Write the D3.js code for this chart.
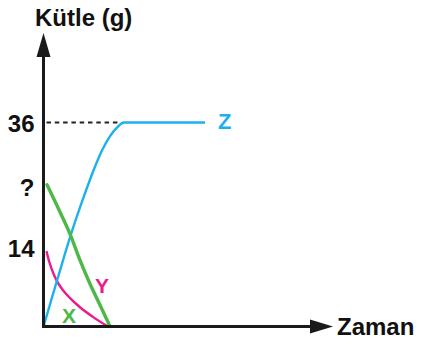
<!DOCTYPE html>
<html>
<head>
<meta charset="utf-8">
<script src="https://cdn.jsdelivr.net/npm/d3@7"></script>
<style>
  html, body { margin: 0; padding: 0; background: #fff; }
  svg { display: block; }
  text { font-family: "Liberation Sans", Arial, sans-serif; font-weight: bold; }
</style>
</head>
<body>
<svg id="chart" width="422" height="344"></svg>
<script>
// ---- data ----
const yTickValues = [36, 25, 14];
const yTickLabels = ["36", "?", "14"];
const yAxisTitle = "Kütle (g)";
const xAxisTitle = "Zaman";

const zTime = [0, 0.875, 1.72, 2.53, 3.16, 3.66, 4.16, 4.59, 5.03, 10.1];
const zMass = [0, 8.4, 16.3, 23.0, 27.8, 31.1, 33.6, 35.1, 36, 36];

const xTime = [0.22, 1.03, 1.66, 2.28, 2.91, 3.53, 4.16];
const xMass = [25.0, 20.2, 16.3, 11.7, 7.5, 3.8, 0];

const yTime = [0.19, 0.34, 0.53, 0.84, 1.22, 1.66, 2.28, 3.09, 4.03];
const yMass = [13.3, 11.6, 10.0, 8.0, 6.4, 5.0, 3.4, 1.7, 0];

const seriesNames = ["Z", "X", "Y"];

// ---- layout ----
const svg = d3.select("#chart");
const x = d3.scaleLinear().domain([0, 18]).range([43.5, 331.5]);
const y = d3.scaleLinear().domain([0, 36]).range([326.5, 122.5]);

const colors = { Z: "#1cb0ee", X: "#4db848", Y: "#ec1a8c" };

// dashed reference line at 36
svg.append("line")
  .attr("x1", x(0) + 3).attr("x2", x(zTime[8]) - 3)
  .attr("y1", y(36)).attr("y2", y(36))
  .attr("stroke", "#222").attr("stroke-width", 2)
  .attr("stroke-dasharray", "4.5,3.8");

// curves
const line = d3.line().x(d => x(d[0])).y(d => y(d[1])).curve(d3.curveMonotoneX);

svg.append("path")
  .datum(yTime.map((t, i) => [t, yMass[i]]))
  .attr("d", line).attr("fill", "none")
  .attr("stroke", colors.Y).attr("stroke-width", 2.4);

svg.append("path")
  .datum(zTime.map((t, i) => [t, zMass[i]]))
  .attr("d", line).attr("fill", "none")
  .attr("stroke", colors.Z).attr("stroke-width", 2.4);

svg.append("path")
  .datum(xTime.map((t, i) => [t, xMass[i]]))
  .attr("d", line).attr("fill", "none")
  .attr("stroke", colors.X).attr("stroke-width", 3.4)
  .attr("stroke-linecap", "round");

// axes
const axisColor = "#1a1a1a";
svg.append("line")
  .attr("x1", x(0)).attr("x2", x(0))
  .attr("y1", y(0) + 1.5).attr("y2", 52)
  .attr("stroke", axisColor).attr("stroke-width", 3);
svg.append("path")
  .attr("d", `M${x(0)},33 L${x(0) - 7},57 L${x(0) + 7},57 Z`)
  .attr("fill", axisColor);

svg.append("line")
  .attr("x1", x(0) - 1.5).attr("x2", 314)
  .attr("y1", y(0)).attr("y2", y(0))
  .attr("stroke", axisColor).attr("stroke-width", 3);
svg.append("path")
  .attr("d", `M333,${y(0)} L310,${y(0) - 7} L310,${y(0) + 7} Z`)
  .attr("fill", axisColor);

// y tick labels via axis
const yAxis = d3.axisLeft(y)
  .tickValues(yTickValues)
  .tickSize(0)
  .tickPadding(9)
  .tickFormat((d, i) => yTickLabels[i]);
const gy = svg.append("g").attr("transform", `translate(${x(0)},0)`).call(yAxis);
gy.select(".domain").remove();
gy.selectAll("text")
  .attr("font-size", 24)
  .attr("font-family", "Liberation Sans, Arial, sans-serif")
  .attr("font-weight", "bold")
  .attr("fill", "#111")
  .attr("dy", (d, i) => i === 1 ? "0.45em" : "0.38em");

// titles
svg.append("text").attr("x", 35).attr("y", 26)
  .attr("font-size", 24).attr("fill", "#111").text(yAxisTitle);
svg.append("text").attr("x", 337).attr("y", 335)
  .attr("font-size", 24).attr("fill", "#111").text(xAxisTitle);

// series labels
svg.append("text").attr("x", 218).attr("y", 129)
  .attr("font-size", 22).attr("fill", colors.Z).text(seriesNames[0]);
svg.append("text").attr("x", 62).attr("y", 323)
  .attr("font-size", 21).attr("fill", colors.X).text(seriesNames[1]);
svg.append("text").attr("x", 95).attr("y", 293)
  .attr("font-size", 21).attr("fill", colors.Y).text(seriesNames[2]);
</script>
</body>
</html>
